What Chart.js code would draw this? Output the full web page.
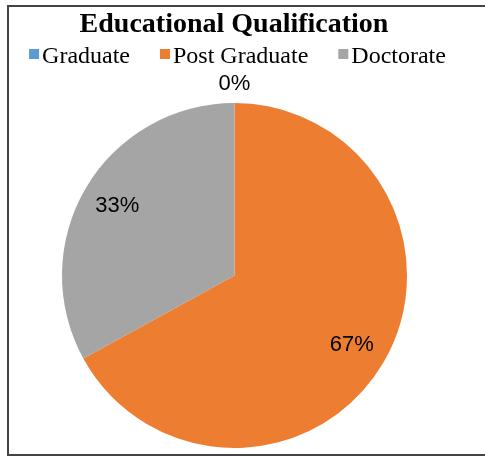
<!DOCTYPE html>
<html>
<head>
<meta charset="utf-8">
<script src="https://cdn.jsdelivr.net/npm/chart.js@4"></script>
<style>
  html, body { margin: 0; padding: 0; background: #fff; }
  .frame { position: absolute; left: 7px; top: 5px; width: 490px; height: 447px;
           border: 2px solid #444; border-right: none; }
  #myChart { position: absolute; left: 0; top: 0; }
</style>
</head>
<body>
<div class="frame"></div>
<canvas id="myChart" width="485" height="456"></canvas>
<script>
// data
var categories = ["Graduate", "Post Graduate", "Doctorate"];
var shares = [0, 67, 33];
var colors = ["#5B9BD5", "#ED7D31", "#A5A5A5"];
var chartTitle = "Educational Qualification";

// title + legend drawn on top of the canvas
var headerPlugin = {
  id: 'header',
  afterDraw: function (chart) {
    var ctx = chart.ctx;
    ctx.save();
    ctx.fillStyle = '#000';
    ctx.textBaseline = 'alphabetic';
    ctx.textAlign = 'center';
    ctx.font = 'bold 28px "Liberation Serif", "Times New Roman", serif';
    ctx.fillText(chartTitle, 234, 32);

    ctx.font = '24px "Liberation Serif", "Times New Roman", serif';
    ctx.textAlign = 'left';
    var gap = 30, box = 10;
    var total = 0;
    categories.forEach(function (c, i) {
      total += box + 3 + ctx.measureText(c).width + (i < categories.length - 1 ? gap : 0);
    });
    var x = 237.5 - total / 2;
    categories.forEach(function (c, i) {
      ctx.fillStyle = colors[i];
      ctx.fillRect(x, 49, box, box);
      x += box + 3;
      ctx.fillStyle = '#000';
      ctx.fillText(c, x, 63);
      x += ctx.measureText(c).width + gap;
    });
    ctx.restore();
  }
};

// percentage labels
var labelPlugin = {
  id: 'pctLabels',
  afterDatasetsDraw: function (chart) {
    var ctx = chart.ctx;
    var meta = chart.getDatasetMeta(0);
    var sum = shares.reduce(function (a, b) { return a + b; }, 0);
    ctx.save();
    ctx.font = '22px "Liberation Sans", Arial, sans-serif';
    ctx.fillStyle = '#000';
    ctx.textAlign = 'center';
    ctx.textBaseline = 'middle';
    meta.data.forEach(function (arc, i) {
      var p = arc.getProps(['x', 'y', 'startAngle', 'endAngle', 'outerRadius'], true);
      var mid = (p.startAngle + p.endAngle) / 2;
      var r = shares[i] === 0 ? p.outerRadius + 19 : p.outerRadius * 0.79;
      var pct = Math.round(shares[i] / sum * 100) + '%';
      ctx.fillText(pct, p.x + Math.cos(mid) * r, p.y + Math.sin(mid) * r);
    });
    ctx.restore();
  }
};

var ctx = document.getElementById('myChart').getContext('2d');
var myChart = new Chart(ctx, {
  type: 'pie',
  data: {
    labels: categories,
    datasets: [{
      data: shares,
      backgroundColor: colors,
      borderWidth: 0
    }]
  },
  options: {
    responsive: false,
    animation: false,
    layout: { padding: { top: 103, bottom: 8, left: 62, right: 78 } },
    plugins: {
      legend: { display: false },
      title: { display: false },
      tooltip: { enabled: false }
    }
  },
  plugins: [headerPlugin, labelPlugin]
});
</script>
</body>
</html>
